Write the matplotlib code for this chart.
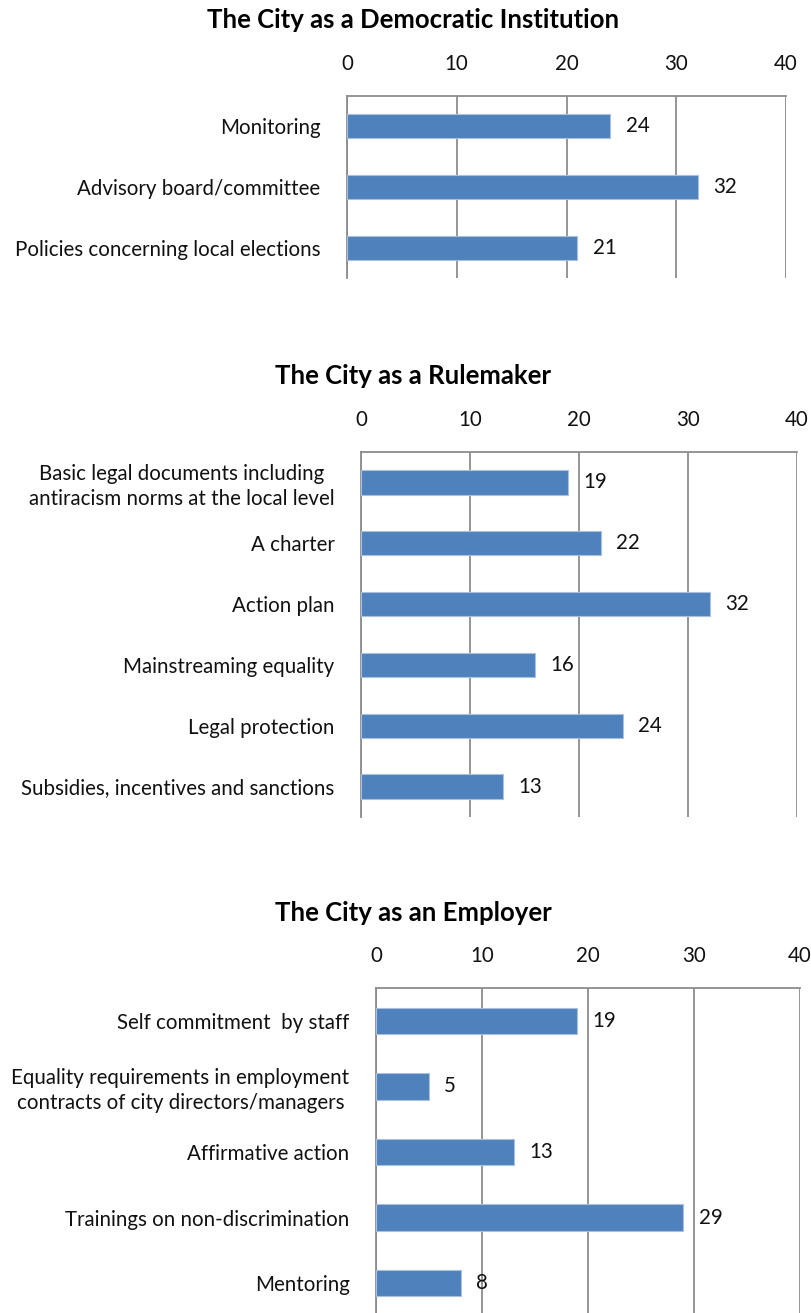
import numpy as np
import matplotlib.pyplot as plt

# survey counts per policy instrument, listed top to bottom
democratic_labels = ["Monitoring", "Advisory board/committee",
                     "Policies concerning local elections"]
democratic_values = [24, 32, 21]

rulemaker_labels = ["Basic legal documents including\nantiracism norms at the local level",
                    "A charter", "Action plan", "Mainstreaming equality",
                    "Legal protection", "Subsidies, incentives and sanctions"]
rulemaker_values = [19, 22, 32, 16, 24, 13]

employer_labels = ["Self commitment  by staff",
                   "Equality requirements in employment\ncontracts of city directors/managers",
                   "Affirmative action", "Trainings on non-discrimination", "Mentoring"]
employer_values = [19, 5, 13, 29, 8]

titles = ["The City as a Democratic Institution", "The City as a Rulemaker",
          "The City as an Employer"]

plt.rcParams['font.family'] = ['Lato', 'DejaVu Sans']

W, H = 811, 1313
fig = plt.figure(figsize=(W / 100, H / 100), dpi=100)

BAR = '#4F81BD'
EDGE = '#A9C1DF'
GRID = '#8C8C8C'
FS = 14.8


def panel(box, labels, values, title, title_y):
    x0, x1, top, bottom = box
    ax = fig.add_axes([x0 / W, 1 - bottom / H, (x1 - x0) / W, (bottom - top) / H])
    y = np.arange(len(values))
    ax.barh(y, values, height=0.4, color=BAR, edgecolor=EDGE, linewidth=0.8, zorder=3)
    for yi, v in zip(y, values):
        ax.annotate(str(v), (v, yi), xytext=(11, 0), textcoords='offset points',
                    ha='left', va='center', fontsize=FS, color='#111111')
    ax.set_xlim(0, 40)
    ax.set_ylim(len(values) - 0.5, -0.5)
    ax.set_xticks([0, 10, 20, 30, 40])
    ax.xaxis.tick_top()
    ax.tick_params(axis='x', length=0, pad=16, labelsize=FS, labelcolor='#111111')
    ax.set_yticks(y)
    ax.set_yticklabels(labels)
    ax.tick_params(axis='y', length=0, pad=19, labelsize=FS, labelcolor='#111111')
    for t in ax.get_yticklabels():
        t.set_multialignment('center')
        t.set_linespacing(1.3)
    ax.grid(axis='x', color=GRID, linewidth=1.3, zorder=0)
    ax.spines['bottom'].set_visible(False)
    ax.spines['right'].set_visible(False)
    for s in ('top', 'left'):
        ax.spines[s].set_color(GRID)
        ax.spines[s].set_linewidth(1.3)
    fig.text(413 / W, 1 - title_y / H, title, ha='center', va='center',
             fontsize=18.5, fontweight='bold')
    return ax


panel((347, 786, 96, 278), democratic_labels, democratic_values, titles[0], 20)
panel((361, 797, 452, 817), rulemaker_labels, rulemaker_values, titles[1], 376)
panel((376, 800, 988, 1316), employer_labels, employer_values, titles[2], 913)

fig.savefig('out.png', dpi=100)
